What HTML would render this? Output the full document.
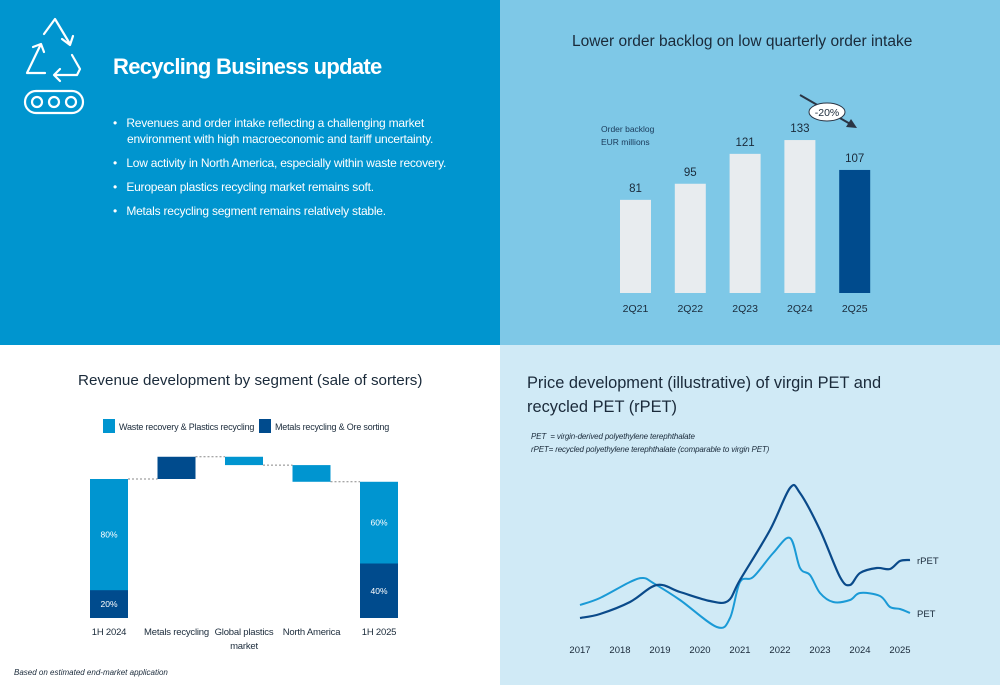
<!DOCTYPE html>
<html><head><meta charset="utf-8"><style>
*{margin:0;padding:0;box-sizing:border-box}
body{width:1000px;height:685px;position:relative;font-family:"Liberation Sans",sans-serif;background:#fff;overflow:hidden}
.p{position:absolute}
svg{position:absolute;left:0;top:0}
</style></head><body>
<div class="p" style="left:0;top:0;width:500px;height:345px;background:#0095cf"></div>
<div class="p" style="left:500px;top:0;width:500px;height:345px;background:#7ec8e7"></div>
<div class="p" style="left:500px;top:345px;width:500px;height:340px;background:#d0eaf6"></div>
<div class="p" style="left:113px;top:54px;color:#fff;font-size:22px;font-weight:bold;letter-spacing:-0.7px">Recycling Business update</div>
<ul class="p" style="left:113px;top:115px;color:#fff;font-size:12px;letter-spacing:-0.22px;line-height:16px;list-style:none;width:380px">
<li style="padding-left:14px;text-indent:-14px;margin-bottom:8px">•&nbsp;&nbsp; Revenues and order intake reflecting a challenging market<br>environment with high macroeconomic and tariff uncertainty.</li>
<li style="padding-left:14px;text-indent:-14px;margin-bottom:8px">•&nbsp;&nbsp; Low activity in North America, especially within waste recovery.</li>
<li style="padding-left:14px;text-indent:-14px;margin-bottom:8px">•&nbsp;&nbsp; European plastics recycling market remains soft.</li>
<li style="padding-left:14px;text-indent:-14px">•&nbsp;&nbsp; Metals recycling segment remains relatively stable.</li></ul>
<div class="p" style="left:572px;top:33px;font-size:15.5px;color:#1a2a3a">Lower order backlog on low quarterly order intake</div>
<div class="p" style="left:78px;top:372px;font-size:15.2px;color:#1a2a3a">Revenue development by segment (sale of sorters)</div>
<div class="p" style="left:527px;top:371px;font-size:16.4px;line-height:24px;color:#1a2a3a;width:360px">Price development (illustrative) of virgin PET and<br>recycled PET (rPET)</div>
<div class="p" style="left:531px;top:430px;font-size:8px;line-height:13px;font-style:italic;color:#1a2a3a;letter-spacing:-0.15px">PET&nbsp; = virgin-derived polyethylene terephthalate<br>rPET= recycled polyethylene terephthalate (comparable to virgin PET)</div>
<div class="p" style="left:14px;top:668px;font-size:8px;font-style:italic;color:#1a2a3a">Based on estimated end-market application</div>
<svg width="1000" height="685" id="s">
<g fill="none" stroke="#fff" stroke-width="2.2" stroke-linecap="round" stroke-linejoin="round">
<path d="M44 34 L55 19 L70 44 M62 39 L70 45 L73 36"/>
<path d="M40 46 L27 73 L45 73 M33 47 L41 44 L44 52"/>
<path d="M72 55 L80 69 L77 75 L55 75 M60 69 L54 75 L60 81"/>
<rect x="25" y="91" width="58" height="22" rx="11"/><circle cx="37" cy="102" r="5"/><circle cx="54" cy="102" r="5"/><circle cx="71" cy="102" r="5"/></g>
</svg>
<script>
const NS="http://www.w3.org/2000/svg",S=document.getElementById('s');
function el(t,a,txt){const e=document.createElementNS(NS,t);for(const k in a)e.setAttribute(k,a[k]);if(txt!==undefined)e.textContent=txt;S.appendChild(e);return e;}
// Backlog chart
const quarters=["2Q21","2Q22","2Q23","2Q24","2Q25"];
const backlog=[81,95,121,133,107];
const bBase=293,bScale=1.15;
const bx=i=>620+i*54.8, by=v=>bBase-v*bScale;
quarters.forEach((q,i)=>{
 const r=el('rect',{x:bx(i),y:by(backlog[i]),width:31,height:backlog[i]*bScale,fill:i==4?'#004b8d':'#e8ecef'});
 
 
 const v=el('text',{x:bx(i)+15.5,y:by(backlog[i])-8,'text-anchor':'middle','font-size':11.5,fill:'#1a2a3a'},backlog[i]);
 
 
 const l=el('text',{x:bx(i)+15.5,y:312,'text-anchor':'middle','font-size':10.5,fill:'#1a2a3a'},q);
 
 
});
let t=el('text',{x:601,y:132,'font-size':8.5,fill:'#1a3a5a'},'Order backlog');
t=el('text',{x:601,y:145,'font-size':8.5,fill:'#1a3a5a'},'EUR millions');
el('line',{x1:800,y1:95,x2:852,y2:125,stroke:'#2a3545','stroke-width':2});
el('path',{d:'M857 128 L846 127 L851 119 Z',fill:'#2a3545'});
el('ellipse',{cx:827,cy:112,rx:18,ry:9,fill:'#fff',stroke:'#2a3545','stroke-width':1});
t=el('text',{x:827,y:116,'text-anchor':'middle','font-size':10.5,fill:'#1a2a3a'},'-20%');
// Waterfall
const steps=["1H 2024","Metals recycling","Global plastics|market","North America","1H 2025"];
const deltas=[100,16,-6,-12,98];
const metalShare1=20,metalShare2=40;
const wBase=618,wScale=1.39;
const wx=i=>90+i*67.5, wy=v=>wBase-v*wScale;
let run=0;
steps.forEach((s,i)=>{
 if(i==0||i==4){run=deltas[i];
  const share=i==0?metalShare1:metalShare2;
  const r1=el('rect',{x:wx(i),y:wy(run),width:38,height:run*wScale,fill:'#0095d0'});
  
  const r2=el('rect',{x:wx(i),y:wy(run*share/100),width:38,height:run*share/100*wScale,fill:'#004b8d'});
  
  el('text',{x:wx(i)+19,y:wy(run*share/100)+run*share/100*wScale/2+3,'text-anchor':'middle','font-size':8.5,fill:'#fff'},share+'%');
  el('text',{x:wx(i)+19,y:wy(run)+(run-run*share/100)*wScale/2+3,'text-anchor':'middle','font-size':8.5,fill:'#fff'},(100-share)+'%');
 } else {
  const prev=run;run+=deltas[i];
  const r=el('rect',{x:wx(i),y:wy(Math.max(prev,run)),width:38,height:Math.abs(deltas[i])*wScale,fill:i==1?'#004b8d':'#0095d0'});
  
 }
 if(i<4){el('line',{x1:wx(i)+38,y1:wy(run),x2:wx(i+1),y2:wy(i==3?deltas[4]:run),stroke:'#888','stroke-dasharray':'2,2','stroke-width':1});}
 s.split('|').forEach((p,k)=>{const l=el('text',{x:wx(i)+19,y:635+k*14,'text-anchor':'middle','font-size':9.5,'letter-spacing':'-0.2',fill:'#1a2a3a'},p);});
});
const lg=[['Waste recovery & Plastics recycling','#0095d0',103],['Metals recycling & Ore sorting','#004b8d',259]];
lg.forEach(([n,c,x])=>{el('rect',{x:x,y:419,width:12,height:14,fill:c});const e=el('text',{x:x+16,y:430,'font-size':9,'letter-spacing':'-0.2',fill:'#1a2a3a'},n);});
// Price lines
const years=[2017,2018,2019,2020,2021,2022,2023,2024,2025];
const rX=[2017,2017.5,2018.25,2018.92,2019.5,2020.25,2020.7,2021,2021.75,2022.25,2022.5,2023,2023.5,2023.75,2024,2024.42,2024.75,2025,2025.25];
const rV=[22,26,38,55,48,39,39,60,110,152,147,110,63,55,67,72,71,79,80];
const pX=[2017,2017.5,2018.25,2018.58,2018.83,2019.5,2020.42,2020.75,2021,2021.33,2021.83,2022.25,2022.5,2022.75,2023,2023.33,2023.75,2024,2024.5,2024.75,2025,2025.25];
const pV=[35,42,58,62,57,40,13,22,58,63,87,102,72,65,47,38,40,47,44,33,31,27];
const lx=y=>580+(y-2017)*40, ly=v=>640-v;
function sm(X,V){const P=X.map((x,i)=>[lx(x),ly(V[i])]);let d='M'+P[0][0]+' '+P[0][1];
 for(let i=0;i<P.length-1;i++){const p0=P[Math.max(i-1,0)],p1=P[i],p2=P[i+1],p3=P[Math.min(i+2,P.length-1)];const k=1/6;
  d+=` C${p1[0]+(p2[0]-p0[0])*k} ${p1[1]+(p2[1]-p0[1])*k} ${p2[0]-(p3[0]-p1[0])*k} ${p2[1]-(p3[1]-p1[1])*k} ${p2[0]} ${p2[1]}`;}
 return d;}
let p=el('path',{d:sm(pX,pV),fill:'none',stroke:'#1a9ad6','stroke-width':2});
p=el('path',{d:sm(rX,rV),fill:'none',stroke:'#0a4a8a','stroke-width':2.2});
t=el('text',{x:917,y:564,'font-size':9.5,fill:'#1a2a3a'},'rPET');
t=el('text',{x:917,y:617,'font-size':9.5,fill:'#1a2a3a'},'PET');
years.forEach(y=>{const e=el('text',{x:lx(y),y:653,'text-anchor':'middle','font-size':9.5,fill:'#1a2a3a'},y);});
</script>
</body></html>
